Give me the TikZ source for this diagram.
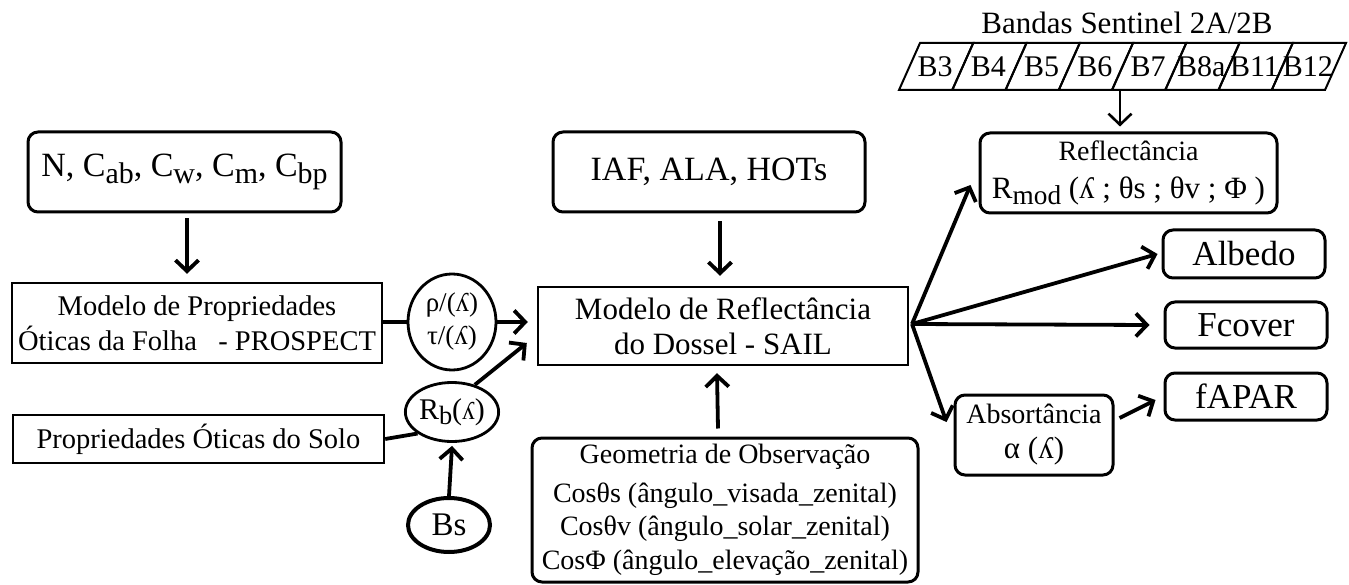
\documentclass[tikz,border=0pt]{standalone}
\usepackage{fontspec}
\setmainfont{Liberation Serif}
\usetikzlibrary{arrows.meta,shapes.geometric}
\newcommand\lowsub[1]{\raisebox{-0.4ex}{\scalebox{0.88}{#1}}}
\newcommand\fs[1]{\fontsize{#1}{35}\selectfont}
\tikzset{
  rbox/.style={draw, line width=3pt, rounded corners=10pt, inner sep=0pt, align=center},
  sbox/.style={draw, line width=2.4pt, inner sep=0pt, align=center},
  ell/.style={draw, ellipse, line width=2.8pt, inner sep=0pt, align=center},
  arr/.style={line width=3.8pt, -{Straight Barb[length=11pt,width=23pt]}},
  plain/.style={line width=3.8pt}
}
\begin{document}
\begin{tikzpicture}[x=1pt,y=-1pt]
\useasboundingbox (0,0) rectangle (1349,585);
% left column
\node[rbox, minimum width=313pt, minimum height=80pt, font=\fs{34}] (nbox) at (184.5,172)
  {N, C\lowsub{ab}, C\lowsub{w}, C\lowsub{m}, C\lowsub{bp}};
\node[sbox, minimum width=370pt, minimum height=80pt, font=\fs{28.5}] (prospect) at (197,323)
  {Modelo de Propriedades\\Óticas da Folha\ \ \ - PROSPECT};
\node[sbox, minimum width=371pt, minimum height=48pt, font=\fs{28.5}] (solo) at (198.5,439)
  {Propriedades Óticas do Solo};
\node[ell, minimum width=88pt, minimum height=96pt, font=\fontsize{27}{33}\selectfont] (rt) at (452,322)
  {ρ/(ʎ)\\τ/(ʎ)};
\node[ell, minimum width=91pt, minimum height=59pt, font=\fs{30}] (rb) at (452,412)
  {R\lowsub{b}(\scalebox{0.85}{ʎ})};
\node[ell, line width=4pt, minimum width=82pt, minimum height=54pt, font=\fs{33}] (bs) at (449,525)
  {Bs};
% centre column
\node[rbox, minimum width=312pt, minimum height=80pt, font=\fs{34}] (iaf) at (709,172)
  {IAF, ALA, HOTs};
\node[sbox, minimum width=370pt, minimum height=78pt, font=\fs{31}] (sail) at (723,326)
  {Modelo de Reflectância\\do Dossel - SAIL};
\node[rbox, minimum width=386pt, minimum height=144pt, font=\fontsize{28}{33.5}\selectfont] (geom) at (725,510)
  {Geometria de Observação\\[5pt]Cosθs (ângulo\_visada\_zenital)\\Cosθv (ângulo\_solar\_zenital)\\CosΦ (ângulo\_elevação\_zenital)};
% right column
\node[font=\fs{31}] (title) at (1127,23) {Bandas Sentinel 2A/2B};
\foreach \i/\t in {0/B3,1/B4,2/B5,3/B6,4/B7,5/B8a,6/B11,7/B12}{
  \pgfmathsetmacro\xa{920+53.25*\i}
  \pgfmathsetmacro\xb{920+53.25*(\i+1)}
  \draw[line width=2pt] (\xa,43) -- (\xb,43) -- (\xb-21,90) -- (\xa-21,90) -- cycle;
  \node[font=\fs{30}] (b\i) at (\xa+15,66.5) {\t};
}
\coordinate (bandsbot) at (1120,90);
\node[rbox, minimum width=297pt, minimum height=80pt, font=\fontsize{28}{38}\selectfont] (refl) at (1128.5,173)
  {Reflectância\\\fontsize{31}{38}\selectfont R\lowsub{mod} (ʎ ; θs ; θv ; Φ )};
\node[rbox, minimum width=162pt, minimum height=48pt, font=\fs{35}] (albedo) at (1244,254) {Albedo};
\node[rbox, minimum width=162pt, minimum height=46pt, font=\fs{35}] (fcover) at (1246,325) {Fcover};
\node[rbox, minimum width=162pt, minimum height=47pt, font=\fs{35}] (fapar) at (1246,396.5) {fAPAR};
\node[rbox, minimum width=158pt, minimum height=80pt, font=\fontsize{28}{35}\selectfont] (abs) at (1034,435)
  {Absortância\\\fontsize{31}{35}\selectfont α (ʎ)};
\coordinate (fan) at (912,324);
% connectors
\draw[arr] ([xshift=2.5pt,yshift=-5pt]nbox.south) -- ([xshift=-10pt,yshift=8pt]prospect.north);
\draw[plain] (prospect.east |- rt.west) -- (rt.west);
\draw[arr] (rt.east) -- ([xshift=-9pt,yshift=4pt]sail.west);
\draw[plain] (solo.east) -- (rb.212);
\draw[arr] (rb.50) -- ([xshift=-10pt,yshift=-17pt]sail.west);
\draw[arr] (bs.north) -- ([yshift=-3pt]rb.south);
\draw[arr] ([xshift=11pt,yshift=-8pt]iaf.south) -- ([xshift=-3pt,yshift=10pt]sail.north);
\draw[arr] ([xshift=-7pt,yshift=8pt]geom.north) -- ([xshift=-6pt,yshift=-7pt]sail.south);
\draw[arr, line width=2.6pt] (bandsbot) -- ([xshift=-8.5pt,yshift=5pt]refl.north);
\draw[arr] (fan) -- ([xshift=-8pt,yshift=-12pt]refl.west);
\draw[arr] (fan) -- ([xshift=-4pt]albedo.west);
\draw[arr] (fan) -- ([xshift=-14pt]fcover.west);
\draw[arr] (fan) -- ([xshift=-7pt,yshift=13pt]abs.west);
\draw[arr] ([xshift=5pt,yshift=17pt]abs.east) -- ([xshift=-8pt,yshift=-3.5pt]fapar.west);
\end{tikzpicture}
\end{document}
